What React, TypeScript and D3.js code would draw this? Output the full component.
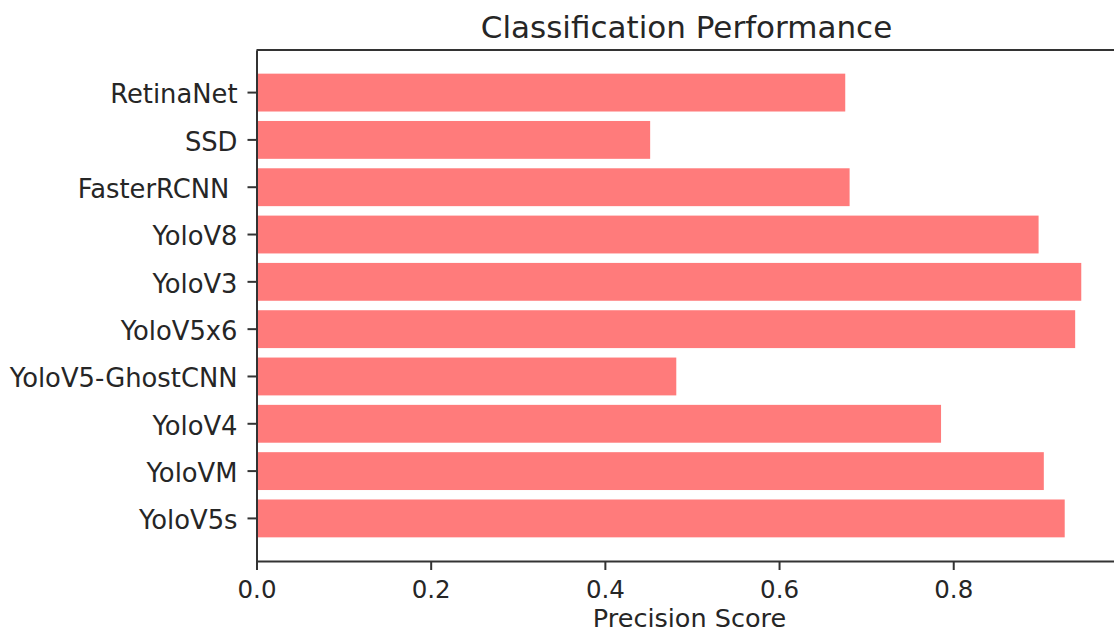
import React, { useRef, useEffect } from 'react';
import * as d3 from 'd3';

// models, top to bottom as they appear
const models = [
  'RetinaNet',
  'SSD',
  'FasterRCNN ',
  'YoloV8',
  'YoloV3',
  'YoloV5x6',
  'YoloV5-GhostCNN',
  'YoloV4',
  'YoloVM',
  'YoloV5s',
];

const precision = [0.676, 0.452, 0.681, 0.898, 0.947, 0.940, 0.482, 0.786, 0.904, 0.928];

const xTicks = [0.0, 0.2, 0.4, 0.6, 0.8];

const App: React.FC = () => {
  const svgRef = useRef<SVGSVGElement>(null);

  useEffect(() => {
    if (!svgRef.current) return;

    const width = 1114;
    const height = 634;
    const margin = { top: 50, left: 256.5, bottom: 561, right: 1122.5 };
    const font = 'DejaVu Sans, sans-serif';
    const ink = '#262626';

    const svg = d3.select(svgRef.current);
    svg.selectAll('*').remove();

    const xMax = (d3.max(precision) as number) * 1.05;
    const x = d3.scaleLinear().domain([0, xMax]).range([margin.left, margin.right]);

    const y = d3.scaleBand<string>()
      .domain(models)
      .range([margin.top, margin.bottom])
      .paddingInner(0.2)
      .paddingOuter(0.5);

    // Bars
    svg.append('g')
      .selectAll('rect')
      .data(models)
      .join('rect')
      .attr('x', x(0))
      .attr('y', d => y(d) as number)
      .attr('width', (d, i) => x(precision[i]) - x(0))
      .attr('height', y.bandwidth())
      .attr('fill', '#ff7b7b');

    // Frame: top and right spines (right edge falls outside the picture)
    svg.append('line')
      .attr('x1', margin.left).attr('x2', margin.right)
      .attr('y1', margin.top).attr('y2', margin.top)
      .attr('stroke', '#333').attr('stroke-width', 2);
    svg.append('line')
      .attr('x1', margin.right).attr('x2', margin.right)
      .attr('y1', margin.top).attr('y2', margin.bottom)
      .attr('stroke', '#333').attr('stroke-width', 2);

    // X axis
    const gx = svg.append('g')
      .attr('transform', `translate(0,${margin.bottom})`)
      .call(d3.axisBottom(x).tickValues(xTicks).tickFormat(d3.format('.1f')).tickSize(9).tickPadding(11).tickSizeOuter(0));
    gx.select('.domain').attr('stroke', '#333').attr('stroke-width', 2);
    gx.selectAll('.tick line').attr('stroke', '#333').attr('stroke-width', 2);
    gx.selectAll('.tick text')
      .attr('fill', ink)
      .style('font-family', font)
      .style('font-size', '24.5px');

    // Y axis
    const gy = svg.append('g')
      .attr('transform', `translate(${margin.left},0)`)
      .call(d3.axisLeft(y).tickSize(9).tickPadding(10).tickSizeOuter(0));
    gy.select('.domain').attr('stroke', '#333').attr('stroke-width', 2);
    gy.selectAll('.tick line').attr('stroke', '#333').attr('stroke-width', 2);
    gy.selectAll('.tick text')
      .attr('fill', ink)
      .attr('dy', '0.42em')
      .attr('xml:space', 'preserve')
      .style('white-space', 'pre')
      .style('font-family', font)
      .style('font-size', '25.8px');

    // Title
    svg.append('text')
      .attr('x', (margin.left + margin.right) / 2 - 3)
      .attr('y', 38)
      .attr('text-anchor', 'middle')
      .attr('fill', ink)
      .style('font-family', font)
      .style('font-size', '31px')
      .text('Classification Performance');

    // X label
    svg.append('text')
      .attr('x', (margin.left + margin.right) / 2)
      .attr('y', 627)
      .attr('text-anchor', 'middle')
      .attr('fill', ink)
      .style('font-family', font)
      .style('font-size', '25.5px')
      .text('Precision Score');

    svg.attr('width', width).attr('height', height);
  }, []);

  return (
    <svg
      ref={svgRef}
      width={1114}
      height={634}
      style={{ position: 'absolute', left: 0, top: 0, background: '#fff', overflow: 'hidden' }}
    />
  );
};

export default App;
